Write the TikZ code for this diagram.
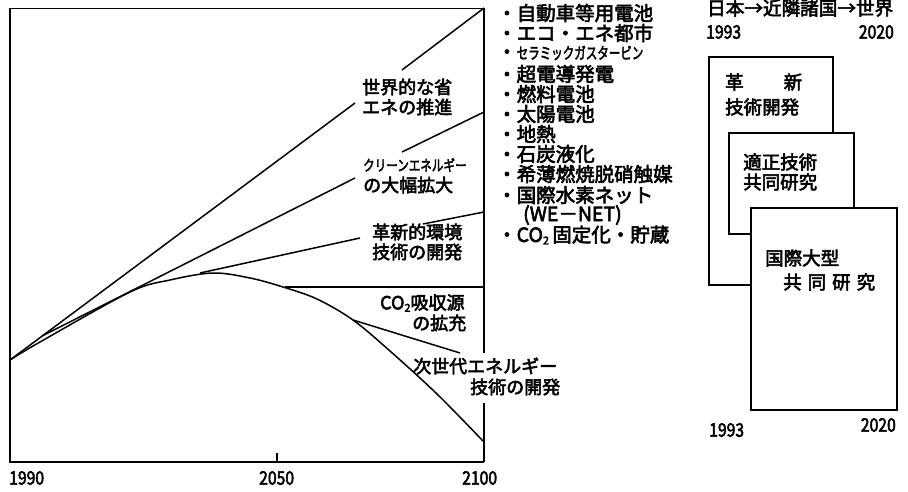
\documentclass[tikz,border=0pt]{standalone}
\usepackage{fontspec}
\usepackage{graphicx}
\setmainfont{Noto Sans CJK JP}[FakeBold=3]
\newcommand{\cotwo}{CO\raisebox{-2.5pt}{\fontsize{11}{11}\selectfont 2}}
\newcommand{\yrtxt}[1]{\scalebox{0.85}[1]{#1}}
\begin{document}
\begin{tikzpicture}[x=1pt,y=-1pt,
  frame/.style={line width=1.8pt},
  curveline/.style={line width=1.5pt, line join=round},
  lbl/.style={anchor=west, inner sep=0pt, font=\fontsize{18}{18}\selectfont},
  lst/.style={anchor=west, inner sep=0pt, font=\fontsize{19.5}{19.5}\selectfont},
  yr/.style={inner sep=0pt, font=\fontsize{18.5}{18.5}\selectfont},
  boxx/.style={line width=1.5pt, fill=white}]
\useasboundingbox (0,0) rectangle (908,491);
% frame
\draw[line width=1pt] (10,8) -- (484,8);
\draw[frame] (10,8) -- (10,462) -- (484,462);
\draw[frame] (484,8) -- (484,353);
\draw[frame] (484,403) -- (484,462);
\draw[frame] (277,453) -- (277,462);
% lines
\draw[curveline] (10,360) -- (355,103);
\draw[curveline] (402,70) -- (484,8);
\draw[curveline] (42,336) -- (355,178);
\draw[curveline] (402,152) -- (484,112);
\draw[curveline] (200,273) -- (360,238);
\draw[curveline] (423,224) -- (484,212);
\draw[curveline] (285,287) -- (484,287);
\draw[curveline] (353,320) -- (460,353);
\draw[curveline] plot[smooth, tension=0.55] coordinates {(10,360) (40,342) (130,292) (170,280) (213,273) (250,278) (283,287) (317,299) (353,320) (390,351) (437,394) (483,441)};
% chart labels
\node[lbl] (a1) at (362,87) {世界的な省};
\node[lbl] (a2) at (362,107) {エネの推進};
\node[lbl] (b1) at (363,165) {\scalebox{0.77}[1]{\fontsize{15}{15}\selectfont クリーンエネルギー}};
\node[lbl] (b2) at (363,185) {の大幅拡大};
\node[lbl] (c1) at (372,232) {革新的環境};
\node[lbl] (c2) at (372,252) {技術の開発};
\node[lbl] (d1) at (380,303) {\cotwo 吸収源};
\node[lbl] (d2) at (412,323) {の拡充};
\node[lbl] (e1) at (413,366) {次世代エネルギー};
\node[lbl] (e2) at (470,387) {技術の開発};
% axis years
\node[yr, anchor=west] (y1) at (9,478) {\yrtxt{1990}};
\node[yr, anchor=west] (y2) at (259,478) {\yrtxt{2050}};
\node[yr, anchor=west] (y3) at (462,478) {\yrtxt{2100}};
% list
\node[lst] (l1) at (497,13) {・自動車等用電池};
\node[lst] (l2) at (497,33) {・エコ・エネ都市};
\node[lst] (l3) at (497,53) {・\scalebox{0.72}[1]{\fontsize{16}{16}\selectfont セラミックガスタービン}};
\node[lst] (l4) at (497,74) {・超電導発電};
\node[lst] (l5) at (497,94) {・燃料電池};
\node[lst] (l6) at (497,114) {・太陽電池};
\node[lst] (l7) at (497,134) {・地熱};
\node[lst] (l8) at (497,154) {・石炭液化};
\node[lst] (l9) at (497,174) {・希薄燃焼脱硝触媒};
\node[lst] (l10) at (497,195) {・国際水素ネット};
\node[lst] (l11) at (523,215) {(WE－NET)};
\node[lst] (l12) at (497,235) {・\cotwo\,固定化・貯蔵};
% right part
\node[lbl, font=\fontsize{18.6}{18.6}\selectfont] (t1) at (707,8) {日本→近隣諸国→世界};
\node[yr, anchor=west] (t2) at (706,32) {\yrtxt{1993}};
\node[yr, anchor=east] (t3) at (894,32) {\yrtxt{2020}};
\draw[boxx] (709,57) rectangle (833,285);
\draw[boxx] (729,133) rectangle (854,234);
\draw[boxx] (751,208) rectangle (897,410);
\node[lbl, font=\fontsize{18.5}{18.5}\selectfont] (r1) at (725,82) {革\hspace{40pt}新};
\node[lbl, font=\fontsize{18.5}{18.5}\selectfont] (r2) at (725,107) {技術開発};
\node[lbl, font=\fontsize{18.5}{18.5}\selectfont] (s1) at (743,162) {適正技術};
\node[lbl, font=\fontsize{18.5}{18.5}\selectfont] (s2) at (743,182) {共同研究};
\node[lbl, font=\fontsize{18.5}{18.5}\selectfont] (u1) at (765,258) {国際大型};
\node[lbl, font=\fontsize{18.5}{18.5}\selectfont] (u2) at (783,282) {共\hspace{6pt}同\hspace{6pt}研\hspace{6pt}究};
\node[yr, anchor=west] (b93) at (709,430) {\yrtxt{1993}};
\node[yr, anchor=east] (b20) at (896,425) {\yrtxt{2020}};
\end{tikzpicture}
\end{document}
